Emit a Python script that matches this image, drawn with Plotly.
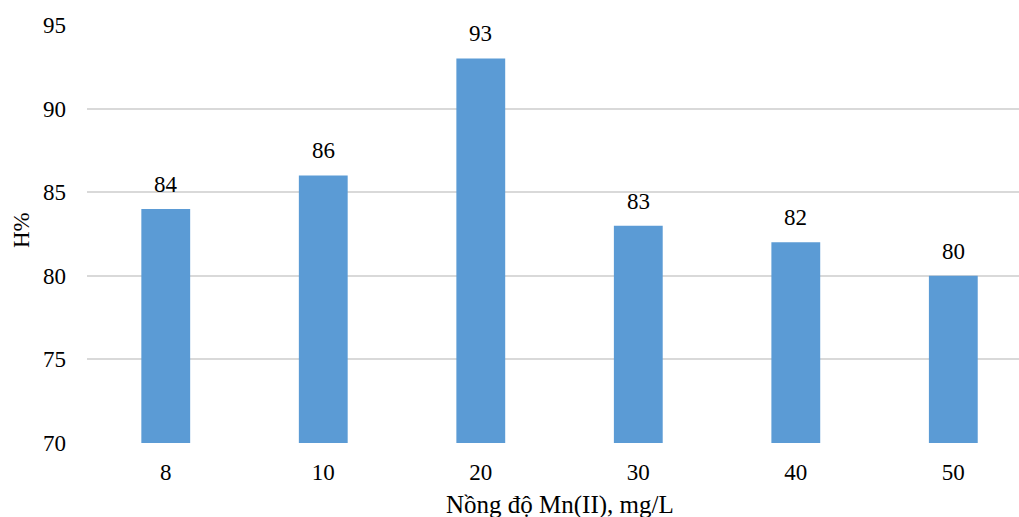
import plotly.graph_objects as go

# Mn(II) concentration (mg/L) and removal efficiency H%
concentrations = ["8", "10", "20", "30", "40", "50"]
efficiency = [84, 86, 93, 83, 82, 80]
y_ticks = [70, 75, 80, 85, 90, 95]

FONT = "Liberation Serif"
BAR_COLOR = "#5B9BD5"
GRID = "#d9d9d9"

fig = go.Figure(
    go.Bar(
        x=concentrations,
        y=efficiency,
        marker=dict(color=BAR_COLOR, line=dict(width=0)),
        width=0.31,
        hoverinfo="x+y",
    )
)

# value labels above each bar (category axis positions by index)
for i, v in enumerate(efficiency):
    fig.add_annotation(
        x=i, y=v, text=str(v), showarrow=False,
        yanchor="bottom", yshift=10,
        font=dict(family=FONT, size=23, color="#000000"),
    )

# axis titles
fig.add_annotation(
    xref="paper", yref="paper", x=0.5075, y=0, yshift=-62,
    text="Nồng độ Mn(II), mg/L", showarrow=False, yanchor="middle",
    font=dict(family=FONT, size=25, color="#000000"),
)
fig.add_annotation(
    xref="paper", yref="paper", x=0, xshift=-66, y=0.5, yshift=4,
    text="H%", textangle=-90, showarrow=False, xanchor="center",
    font=dict(family=FONT, size=23, color="#000000"),
)

fig.update_layout(
    width=1019,
    height=517,
    margin=dict(l=87, r=0, t=25, b=74),
    paper_bgcolor="white",
    plot_bgcolor="white",
    showlegend=False,
    font=dict(family=FONT, size=23, color="#000000"),
    xaxis=dict(
        type="category",
        range=[-0.5, 5.417],
        showgrid=False,
        showline=False,
        ticks="",
        ticklabelstandoff=13,
        tickfont=dict(family=FONT, size=23, color="#000000"),
    ),
    yaxis=dict(
        range=[70, 95],
        tickvals=y_ticks,
        showgrid=True,
        gridcolor=GRID,
        gridwidth=1.5,
        zeroline=False,
        showline=False,
        ticks="",
        ticklabelstandoff=20,
        tickfont=dict(family=FONT, size=23, color="#000000"),
    ),
)

fig.write_html("out.html")
